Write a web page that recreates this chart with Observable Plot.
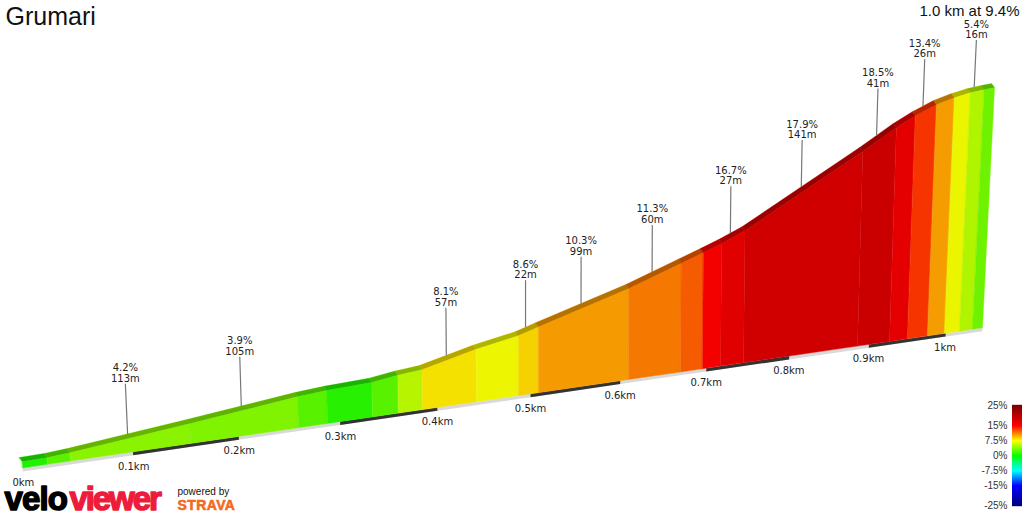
<!DOCTYPE html>
<html><head><meta charset="utf-8">
<script src="https://cdn.jsdelivr.net/npm/d3@7"></script>
<script src="https://cdn.jsdelivr.net/npm/@observablehq/plot@0.6"></script>
<style>
html,body{margin:0;padding:0;background:#fff;overflow:hidden}
#chart{position:relative;width:1024px;height:512px}
#chart svg{position:absolute;left:0;top:0;display:block;background:transparent}
.logo-velo{letter-spacing:-0.9px}
.logo-viewer{letter-spacing:-2.1px}
.logo-strava{letter-spacing:0.4px}
</style></head><body><div id="chart"></div>
<script>
const title = "Grumari";
const summary = "1.0 km at 9.4%";
// segment boundaries along the climb, km
const breakKm = [0,.0222,.0429,.1538,.2584,.2873,.3328,.3595,.3845,.4415,.4868,.5087,.6095,.6697,.6955,.7169,.7444,.8855,.9265,.9498,.9760,.9984,1.0183,1.0358,1.0492];
// height of the profile above the base at each boundary, m
const elevation = [2.6,2.8,3.4,8.1,12.6,13.4,14.0,15.4,16.2,21.3,24.3,26.7,36.8,44,47,49.6,53.4,78.8,86.6,90.3,93.7,95.5,96.6,97.1,97.3];
// gradient of each segment, %
const grade = [1.0,2.8,4.2,3.9,2.7,1.2,2.7,5.6,8.1,7.3,8.6,10.3,11.3,12.2,15.2,16.7,17.9,18.5,16.4,13.4,10.2,7.2,5.4,3.4];
// labelled segments
const labelSegment = [2,3,8,10,11,12,15,16,17,19,22];
const labelLength = [113,105,57,22,99,60,27,141,41,26,16];
const kmTicks = [0,.1,.2,.3,.4,.5,.6,.7,.8,.9,1];
const kmTickLabels = ["0km","0.1km","0.2km","0.3km","0.4km","0.5km","0.6km","0.7km","0.8km","0.9km","1km"];
const legendTicks = [25,15,7.5,0,-7.5,-15,-25];
const legendRange = ["#7a0000","#f50000","#f5f500","#00f000","#00f0f0","#0000f0","#00007a"];
const legendPure = ["#7d0000","#ff0000","#ffff00","#00ff00","#00ffff","#0000ff","#00007d"];

// the climb is drawn in a tilted perspective view
const persp = km => km / (1 + 0.224 * km);
const pxX = 1 / 1130, pxY = 1 / 2.47;
const skew = km => { const d = persp(km) - 0.44; return d < 0 ? d * 0.13 : d * d * 0.3; };
const X = (km, h) => persp(km) + skew(km) * h * pxX / pxY;
const Y = (km, h) => persp(km) * 66.8 + h;
const backDX = -3 * pxX, backDY = 4 * pxY;
const strip = 3.4 * pxY;

// front faces
const faces = grade.flatMap((g, i) => {
  const a = breakKm[i], b = breakKm[i + 1], ha = elevation[i], hb = elevation[i + 1];
  return [[a,0],[b,0],[b,hb],[a,ha]].map(([km,h]) => ({id:i, grade:g, x:X(km,h), y:Y(km,h)}));
});
// top band
const bandFaces = grade.flatMap((g, i) => {
  const a = breakKm[i], b = breakKm[i + 1], ha = elevation[i], hb = elevation[i + 1];
  return [[a,ha,0],[b,hb,0],[b,hb,1],[a,ha,1]].map(([km,h,back]) => ({id:i, grade:g, x:X(km,h)+back*backDX, y:Y(km,h)+back*backDY}));
});
// base strip
const endKm = breakKm[breakKm.length - 1];
const baseParts = [[0,endKm,"#d9d9d9"],...[.1,.3,.5,.7,.9].map(s => [s, s + .1, "#333333"])];
const baseRows = baseParts.flatMap(([a,b,c],i) => [[a,0],[b,0],[b,-strip],[a,-strip]].map(([km,h]) => ({id:i, c, x:X(km,h), y:Y(km,h)})));

const labels = labelSegment.map((s, i) => {
  const km = (breakKm[s] + breakKm[s + 1]) / 2, h = (elevation[s] + elevation[s + 1]) / 2;
  const up = 19 + Math.max(0, 0.45 - persp(km)) * 3.6;
  return {text:`${grade[s].toFixed(1)}%\n${labelLength[i]}m`,
    x1:X(km,h)+backDX, y1:Y(km,h)+backDY, x2:X(km,h+up)+backDX, y2:Y(km,h+up)+backDY};
});
const ticks = kmTicks.map((km,i) => ({text:kmTickLabels[i], x:X(km,-6), y:Y(km,-6)}));

const main = Plot.plot({
  width:1024, height:512, margin:0, axis:null,
  x:{domain:[-22*pxX, 1002*pxX], range:[0,1024]},
  y:{domain:[-18.02,189.27], range:[512,0]},
  color:{type:"linear", domain:legendTicks, range:legendRange},
  style:{background:"transparent"},
  marks:[
    Plot.line(baseRows,{x:"x",y:"y",z:"id",fill:"c",stroke:"none",curve:"linear-closed"}),
    Plot.line(faces,{x:"x",y:"y",z:"id",fill:"grade",stroke:"grade",strokeWidth:.4,curve:"linear-closed"}),
    Plot.line(bandFaces,{x:"x",y:"y",z:"id",fill:"grade",stroke:"grade",strokeWidth:.4,curve:"linear-closed"}),
    Plot.line(bandFaces,{x:"x",y:"y",z:"id",fill:"black",fillOpacity:.26,stroke:"none",curve:"linear-closed"}),
    Plot.link(labels,{x1:"x1",y1:"y1",x2:"x2",y2:"y2",stroke:"#777",strokeWidth:1.2}),
    Plot.text(labels,{x:"x2",y:"y2",text:"text",fontFamily:"DejaVu Sans",fontSize:10,lineHeight:1.05,lineAnchor:"bottom",dy:-2,fill:"#222"}),
    Plot.text(ticks,{x:"x",y:"y",text:"text",fontFamily:"DejaVu Sans",fontSize:10,fill:"#222"}),
    Plot.text([title],{frameAnchor:"top-left",dx:5,dy:7,fontFamily:"Liberation Sans",fontSize:25,fill:"#111",lineAnchor:"top"}),
    Plot.text([summary],{frameAnchor:"top-right",dx:-5,dy:5,fontFamily:"Liberation Sans",fontSize:15,fill:"#111",lineAnchor:"top"}),
    Plot.text(["velo"],{frameAnchor:"bottom-left",dx:4,dy:-3,fontFamily:"Liberation Sans",fontWeight:"bold",fontSize:33,fill:"#000",stroke:"#000",strokeWidth:1.5,lineAnchor:"bottom"}),
    Plot.text(["viewer"],{frameAnchor:"bottom-left",dx:69,dy:-3,fontFamily:"Liberation Sans",fontWeight:"bold",fontSize:33,fill:"#ee1c3c",stroke:"#ee1c3c",strokeWidth:1.5,lineAnchor:"bottom"}),
    Plot.text(["powered by"],{frameAnchor:"bottom-left",dx:177,dy:-17.5,fontFamily:"Liberation Sans",fontSize:10,fill:"#111",lineAnchor:"bottom"}),
    Plot.text(["STRAVA"],{frameAnchor:"bottom-left",dx:177,dy:-3,fontFamily:"Liberation Sans",fontWeight:"bold",fontSize:14,fill:"#f26a21",stroke:"#f26a21",strokeWidth:.6,lineAnchor:"bottom"})
  ]
});
// logo letter spacing
main.querySelectorAll("text").forEach(t => {
  if (t.textContent === "velo") t.classList.add("logo-velo");
  if (t.textContent === "viewer") t.classList.add("logo-viewer");
  if (t.textContent === "STRAVA") t.classList.add("logo-strava");
});

const legendSteps = d3.range(-25, 25.01, 0.5);
const legend = Plot.plot({
  width:1024, height:512, marginLeft:1012, marginRight:2, marginTop:0, marginBottom:0,
  x:{domain:[0,1], axis:null},
  y:{domain:[-28.5,227.5], axis:null},
  color:{type:"linear", domain:legendTicks, range:legendPure},
  style:{background:"transparent"},
  marks:[
    Plot.ruleY(legendSteps,{y:d=>d,x1:()=>0,x2:()=>1,stroke:d=>d,strokeWidth:1.4}),
    Plot.axisY({anchor:"left",ticks:legendTicks,tickFormat:d=>d+"%",tickSize:0,tickPadding:5,label:null,fontFamily:"Liberation Sans",fontSize:10,fill:"#333"})
  ]
});
document.getElementById("chart").append(main, legend);
</script></body></html>
